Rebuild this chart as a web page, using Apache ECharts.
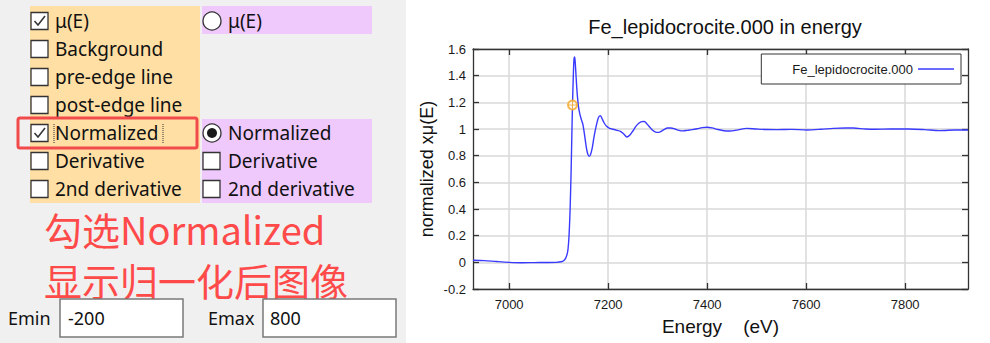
<!DOCTYPE html>
<html>
<head>
<meta charset="utf-8">
<script src="https://cdn.jsdelivr.net/npm/echarts@6/dist/echarts.min.js"></script>
<style>
  html, body { margin: 0; padding: 0; background: #ffffff; }
  #chart { width: 990px; height: 343px; }
</style>
</head>
<body>
<div id="chart"></div>
<script>
// Normalized Fe K-edge spectrum (energy in eV, normalized absorption)
const energy = [6927, 6950, 6975, 7000, 7025, 7050, 7075, 7095, 7105, 7110, 7114, 7117, 7119, 7121, 7123, 7125, 7126.5, 7128, 7129.5, 7131, 7132.5, 7134, 7137, 7140, 7143, 7146, 7149, 7152, 7156, 7159, 7162, 7165, 7168, 7171, 7174, 7178, 7181, 7184.5, 7188, 7192, 7197, 7203, 7210, 7218, 7225, 7231, 7238, 7244, 7250, 7256, 7262, 7268, 7273, 7278, 7284, 7290, 7296, 7302, 7308, 7314, 7320, 7327, 7335, 7343, 7351, 7360, 7370, 7380, 7390, 7400, 7410, 7422, 7434, 7446, 7460, 7480, 7500, 7520, 7541, 7570, 7602, 7630, 7655, 7680, 7695, 7720, 7740, 7770, 7808, 7840, 7869, 7900, 7927];
const normMu = [0.016, 0.013, 0.006, 0.0, -0.003, -0.002, -0.001, 0.0, 0.004, 0.012, 0.03, 0.06, 0.1, 0.2, 0.38, 0.65, 0.92, 1.18, 1.38, 1.52, 1.54, 1.47, 1.29, 1.17, 1.11, 1.07, 1.035, 0.965, 0.86, 0.81, 0.795, 0.815, 0.86, 0.93, 0.99, 1.055, 1.09, 1.10, 1.075, 1.045, 1.02, 1.005, 0.998, 0.99, 0.983, 0.965, 0.94, 0.955, 0.985, 1.02, 1.043, 1.055, 1.056, 1.04, 1.015, 0.99, 0.977, 0.975, 0.984, 0.998, 1.007, 1.008, 1.0, 0.99, 0.986, 0.99, 0.995, 1.002, 1.01, 1.013, 1.008, 0.996, 0.987, 0.985, 0.992, 1.005, 1.0, 0.996, 0.995, 0.997, 0.993, 0.998, 1.005, 1.007, 1.007, 1.0, 0.998, 1.0, 1.0, 0.995, 0.988, 0.992, 0.993];

// Edge energy marker
const e0Energy = 7128;
const e0Value = 1.18;

// Axis ranges and tick labels (Emin = -200, Emax = 800 around E0)
const xMin = 6927, xMax = 7927;
const xTicks = [7000, 7200, 7400, 7600, 7800];
const yMin = -0.2, yMax = 1.6, yStep = 0.2;

const seriesName = 'Fe_lepidocrocite.000';
const chartTitle = 'Fe_lepidocrocite.000 in energy';
const xName = 'Energy    (eV)';
const yName = 'normalized xμ(E)';

// Plot-option panel text
const leftRows = ['μ(E)', 'Background', 'pre-edge line', 'post-edge line', 'Normalized', 'Derivative', '2nd derivative'];
const leftChecked = [true, false, false, false, true, false, false];
const rightRows = ['μ(E)', null, null, null, 'Normalized', 'Derivative', '2nd derivative'];
const noteLines = ['勾选Normalized', '显示归一化后图像'];
const eminText = '-200';
const emaxText = '800';

const uiFont = '"Noto Sans", "Noto Sans CJK SC", sans-serif';
const plotFont = '"Liberation Sans", Arial, sans-serif';

const rowY = [21, 49, 77, 105, 133, 161, 189];

function checkbox(x, cy, checked) {
  const els = [{
    type: 'rect',
    shape: { x: x, y: cy - 8.5, width: 17, height: 17 },
    style: { fill: '#ffffff', stroke: '#333333', lineWidth: 1.3 }
  }];
  if (checked) {
    els.push({
      type: 'polyline',
      shape: { points: [[x + 3.5, cy], [x + 7, cy + 4], [x + 14, cy - 5]] },
      style: { fill: null, stroke: '#333333', lineWidth: 1.5 }
    });
  }
  return els;
}

function radio(cx, cy, checked) {
  const els = [{
    type: 'circle',
    shape: { cx: cx, cy: cy, r: 9 },
    style: { fill: '#ffffff', stroke: '#333333', lineWidth: 1.3 }
  }];
  if (checked) {
    els.push({ type: 'circle', shape: { cx: cx, cy: cy, r: 5 }, style: { fill: '#1a1a1a' } });
  }
  return els;
}

function label(text, x, cy, size, color) {
  return {
    type: 'text',
    style: { text: text, x: x, y: cy, font: size + 'px ' + uiFont, lineHeight: size + 2, fill: color || '#111111', align: 'left', verticalAlign: 'middle' }
  };
}

const panel = [];
panel.push({ type: 'rect', shape: { x: 0, y: 0, width: 406, height: 343 }, style: { fill: '#f0f0f0' } });
panel.push({ type: 'rect', shape: { x: 30, y: 6, width: 170, height: 197 }, style: { fill: '#ffdfa4' } });
panel.push({ type: 'rect', shape: { x: 202, y: 6, width: 170, height: 28 }, style: { fill: '#efc8fc' } });
panel.push({ type: 'rect', shape: { x: 202, y: 119, width: 170, height: 84 }, style: { fill: '#efc8fc' } });

leftRows.forEach(function (t, i) {
  checkbox(31, rowY[i], leftChecked[i]).forEach(function (e) { panel.push(e); });
  panel.push(label(t, 55, rowY[i], 19));
});
rightRows.forEach(function (t, i) {
  if (t === null) return;
  if (i === 0) {
    radio(212, rowY[i], false).forEach(function (e) { panel.push(e); });
  } else if (i === 4) {
    radio(212, rowY[i], true).forEach(function (e) { panel.push(e); });
  } else {
    checkbox(203, rowY[i], false).forEach(function (e) { panel.push(e); });
  }
  panel.push(label(t, 228, rowY[i], 19));
});

// focus outline on the Normalized label
panel.push({ type: 'line', shape: { x1: 54, y1: 124, x2: 54, y2: 143 }, style: { stroke: '#333333', lineWidth: 1, lineDash: [1, 1] } });
panel.push({ type: 'line', shape: { x1: 163, y1: 124, x2: 163, y2: 143 }, style: { stroke: '#333333', lineWidth: 1, lineDash: [1, 1] } });
// red highlight frame
panel.push({ type: 'rect', shape: { x: 18, y: 118, width: 179, height: 30, r: 2 }, style: { fill: null, stroke: '#f24a4a', lineWidth: 3 } });

// red annotation
panel.push({ type: 'text', style: { text: noteLines[0], x: 44, y: 228, font: '38px "Noto Sans CJK SC", sans-serif', lineHeight: 40, fill: '#ff4a4a', align: 'left', verticalAlign: 'middle' } });
panel.push({ type: 'text', style: { text: noteLines[1], x: 44, y: 279, font: '38px "Noto Sans CJK SC", sans-serif', lineHeight: 38, fill: '#ff4a4a', align: 'left', verticalAlign: 'middle' } });

// Emin / Emax inputs
panel.push(label('Emin', 8, 318, 18));
panel.push({ type: 'rect', shape: { x: 60, y: 299, width: 123, height: 38 }, style: { fill: '#ffffff', stroke: '#7a7a7a', lineWidth: 1.5 } });
panel.push(label(eminText, 68, 318, 18));
panel.push(label('Emax', 208, 318, 18));
panel.push({ type: 'rect', shape: { x: 263, y: 299, width: 133, height: 38 }, style: { fill: '#ffffff', stroke: '#7a7a7a', lineWidth: 1.5 } });
panel.push(label(emaxText, 270, 318, 18));

const lineData = energy.map(function (e, i) { return [e, normMu[i]]; });

const axisColor = '#333333';
const gridColor = '#d9d9d9';
const labelStyle = { color: '#1a1a1a', fontSize: 13, fontFamily: plotFont };
const e0Color = '#f5a623';

const chart = echarts.init(document.getElementById('chart'), null, { renderer: 'svg' });
chart.setOption({
  backgroundColor: '#ffffff',
  animation: false,
  title: {
    text: chartTitle,
    left: 720,
    top: 12,
    textAlign: 'center',
    textStyle: { fontSize: 20, fontWeight: 'normal', color: '#111111', fontFamily: plotFont }
  },
  legend: {
    data: [seriesName],
    right: 29,
    top: 54,
    align: 'right',
    orient: 'vertical',
    padding: [8, 7, 8, 31],
    icon: 'rect',
    itemWidth: 36,
    itemHeight: 1.5,
    borderColor: '#333333',
    borderWidth: 1,
    backgroundColor: '#ffffff',
    textStyle: { fontSize: 13, color: '#1a1a1a', fontFamily: plotFont, lineHeight: 14 }
  },
  grid: { left: 473, top: 49, right: 22, bottom: 54, containLabel: false },
  xAxis: [{
    type: 'value',
    position: 'bottom',
    min: xMin,
    max: xMax,
    splitNumber: 5,
    name: xName,
    nameLocation: 'middle',
    nameGap: 28,
    nameTextStyle: { fontSize: 19, color: '#111111', fontFamily: plotFont },
    axisLine: { show: true, onZero: false, lineStyle: { color: axisColor, width: 1.3 } },
    axisTick: { show: true, inside: true, length: 6, customValues: xTicks, lineStyle: { color: axisColor, width: 1.3 } },
    axisLabel: Object.assign({ margin: 9, customValues: xTicks, formatter: function (v) { return String(v); } }, labelStyle),
    splitLine: { show: true, lineStyle: { color: gridColor, width: 1.5 } }
  }, {
    type: 'value',
    position: 'top',
    min: xMin,
    max: xMax,
    splitNumber: 5,
    axisLine: { show: true, onZero: false, lineStyle: { color: axisColor, width: 1.3 } },
    axisTick: { show: true, inside: true, length: 6, customValues: xTicks, lineStyle: { color: axisColor, width: 1.3 } },
    axisLabel: { show: false },
    splitLine: { show: false }
  }],
  yAxis: [{
    type: 'value',
    position: 'left',
    min: yMin,
    max: yMax,
    interval: yStep,
    name: yName,
    nameLocation: 'middle',
    nameGap: 37,
    nameTextStyle: { fontSize: 18, color: '#111111', fontFamily: plotFont },
    axisLine: { show: true, onZero: false, lineStyle: { color: axisColor, width: 1.3 } },
    axisTick: { show: true, inside: true, length: 6, lineStyle: { color: axisColor, width: 1.3 } },
    axisLabel: Object.assign({ margin: 7, formatter: function (v) { return String(Math.round(v * 10) / 10); } }, labelStyle),
    splitLine: { show: true, lineStyle: { color: gridColor, width: 1.5 } }
  }, {
    type: 'value',
    position: 'right',
    min: yMin,
    max: yMax,
    interval: yStep,
    axisLine: { show: true, onZero: false, lineStyle: { color: axisColor, width: 1.3 } },
    axisTick: { show: true, inside: true, length: 6, lineStyle: { color: axisColor, width: 1.3 } },
    axisLabel: { show: false },
    splitLine: { show: false }
  }],
  series: [{
    name: seriesName,
    type: 'line',
    xAxisIndex: 0,
    yAxisIndex: 0,
    data: lineData,
    showSymbol: false,
    symbol: 'none',
    smooth: 0.3,
    lineStyle: { color: '#3a3aff', width: 1.4 },
    itemStyle: { color: '#3a3aff' },
    z: 3
  }, {
    // E0 marker: open ring
    name: 'E0',
    type: 'scatter',
    xAxisIndex: 0,
    yAxisIndex: 0,
    data: [[e0Energy, e0Value]],
    symbol: 'emptyCircle',
    symbolSize: 9,
    itemStyle: { color: e0Color, borderColor: e0Color, borderWidth: 1.1 },
    z: 4
  }, {
    // E0 marker: cross hairs inside the ring
    name: 'E0 cross',
    type: 'scatter',
    xAxisIndex: 0,
    yAxisIndex: 0,
    data: [[e0Energy, e0Value]],
    symbol: 'path://M-1,0L1,0M0,-1L0,1',
    symbolSize: 8,
    itemStyle: { color: 'none', borderColor: e0Color, borderWidth: 1 },
    z: 5
  }],
  graphic: { elements: panel }
});
</script>
</body>
</html>
